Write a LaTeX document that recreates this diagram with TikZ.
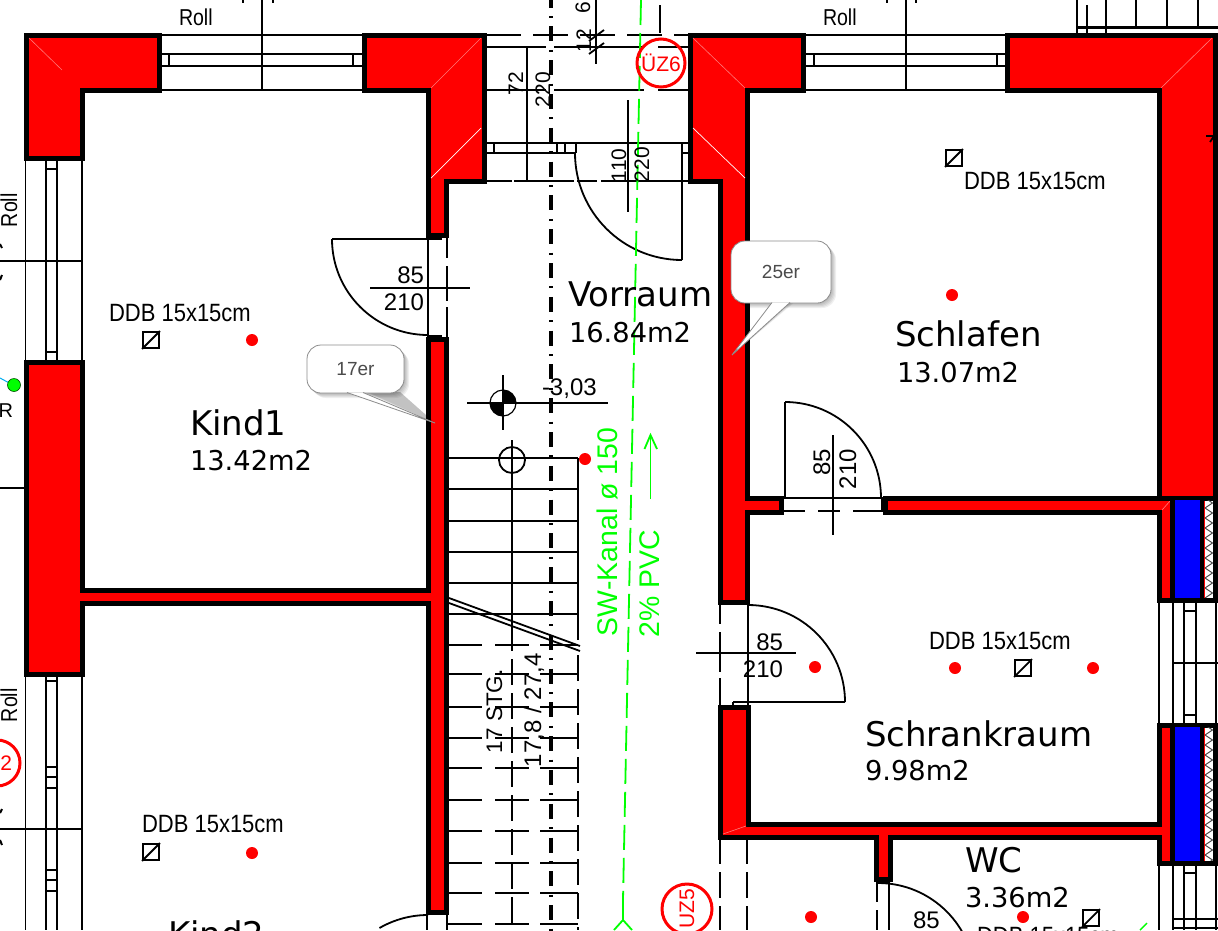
\documentclass[tikz,border=0pt]{standalone}
\usepackage{fontspec}
\setmainfont{Liberation Sans}
\newfontfamily\dvfont{DejaVu Sans}
\definecolor{wallred}{RGB}{255,0,0}
\definecolor{wallblue}{RGB}{0,0,255}
\definecolor{pipegreen}{RGB}{0,255,0}
\definecolor{pale}{RGB}{255,120,120}
\definecolor{calltext}{RGB}{75,75,75}
\definecolor{calledge}{RGB}{140,140,140}
\tikzset{
  x=1pt,y=-1pt,
  ln/.style={line width=1.8pt,black},
  thinln/.style={line width=1.2pt,black},
  wall/.style={fill=wallred,draw=black,line width=5pt,miter limit=10},
  bluefill/.style={fill=wallblue,draw=black,line width=4.5pt},
  palemark/.style={pale,line width=0.6pt},
  whitemark/.style={white,line width=0.7pt},
  dashA/.style={ln,dash pattern=on 35pt off 12pt},
  dashB/.style={ln,dash pattern=on 60pt off 8pt on 90pt off 14pt},
  dashC/.style={ln,dash pattern=on 26pt off 8pt},
  stairdash/.style={ln,dash pattern=on 35pt off 13pt on 34pt off 11pt on 40pt off 0pt},
  axisln/.style={line width=3.8pt,black,dash pattern=on 15pt off 8.4pt on 2pt off 8.4pt},
  pipe/.style={line width=1.8pt,pipegreen,dash pattern=on 25pt off 8pt},
  txt/.style={inner sep=0pt,outer sep=0pt,anchor=base west},
  txte/.style={inner sep=0pt,outer sep=0pt,anchor=base east},
  dim/.style={font=\fontsize{24}{24}\selectfont},
  dimb/.style={font=\fontsize{21}{21}\selectfont},
  roll/.style={font=\fontsize{23}{23}\selectfont},
  ddb/.style={font=\fontsize{25}{25}\selectfont},
  roomname/.style={font=\dvfont\fontsize{34}{34}\selectfont},
  roomarea/.style={font=\dvfont\fontsize{27.3}{28}\selectfont},
  greentxt/.style={pipegreen,font=\fontsize{28.4}{28}\selectfont},
  uzring/.style={circle,draw=wallred,line width=3pt,minimum size=48pt,inner sep=0pt,text=wallred,font=\fontsize{21}{21}\selectfont},
  reddot/.style={circle,fill=wallred,minimum size=12pt,inner sep=0pt},
  ddbsym/.style={rectangle,draw=black,line width=1.8pt,minimum size=16pt,inner sep=0pt},
  callbox/.style={rectangle,rounded corners=14pt,fill=white,draw=calledge,line width=0.8pt,text=calltext,font=\fontsize{19}{19}\selectfont},
  callshade/.style={rounded corners=14pt,fill=black,opacity=0.06},
}
\newcommand{\ddbtext}{\scalebox{0.88}[1]{DDB 15x15cm}}
\newcommand{\rolltext}{\scalebox{0.85}[1]{Roll}}
\newcommand{\ddbmark}[2]{%
  \node[ddbsym] (#1) at #2 {};
  \draw[ln] (#1.south west) -- (#1.north east);}
\begin{document}
\begin{tikzpicture}
\useasboundingbox (0,0) rectangle (1218,930);
\clip (0,0) rectangle (1218,930);
\fill[white] (0,0) rectangle (1218,930);

% ---------- windows ----------
\foreach \yy in {35,54,66,90} {
  \draw[ln] (159,\yy) -- (364,\yy);
  \draw[ln] (803,\yy) -- (1007,\yy);
}
\draw[ln] (262,0) -- (262,91);
\draw[ln] (906,0) -- (906,91);
\draw[ln] (169,54) -- (169,66);
\draw[ln] (353,54) -- (353,66);
\draw[ln] (814,54) -- (814,66);
\draw[ln] (997,54) -- (997,66);
\foreach \xx in {243,273,887,916} { \draw[ln] (\xx,0) -- (\xx,3); }

\foreach \xx in {25.5,46,57,82} {
  \draw[ln] (\xx,158) -- (\xx,362);
  \draw[ln] (\xx,673) -- (\xx,930);
}
\draw[ln] (0,261) -- (83,261);
\draw[ln] (0,829) -- (83,829);
\draw[thinln] (0,488) -- (25,488);
\foreach \yy in {169,352,681,767,777,788,870,880,891} { \draw[ln] (46,\yy) -- (57,\yy); }
\draw[line width=2pt] (0,244) -- (2,248);
\draw[line width=2pt] (0,280) -- (2,275);
\draw[line width=2pt] (0,813) -- (2,809);
\draw[line width=2pt] (0,840) -- (2,845);

\foreach \xx in {1159,1173,1184,1196,1216} {
  \draw[ln] (\xx,600) -- (\xx,725);
  \draw[ln] (\xx,863) -- (\xx,930);
}
\draw[ln] (1173,663) -- (1218,663);
\foreach \yy in {611,715,873} { \draw[ln] (1184,\yy) -- (1196,\yy); }
\draw[ln] (1173,919) -- (1218,919);
\draw[ln] (1173,928) -- (1218,928);

% top right stair remnants
\foreach \xx in {1077,1106,1136,1167,1198} { \draw[ln] (\xx,0) -- (\xx,28); }
\draw[ln] (1087,5) -- (1087,33);
\draw[line width=2.6pt] (1076,27.5) -- (1218,27.5);
\draw[ln] (1077,28) -- (1077,33);
\draw[ln] (1106,28) -- (1106,33);

% ---------- corridor top ----------
\draw[dashA] (486,35) -- (690,35);
\draw[dashB] (486,47) -- (690,47);
\draw[dashB] (486,90) -- (690,90);
\draw[ln] (484,143) -- (690,143);
\draw[ln] (484,153) -- (576,153);
\draw[ln] (682,153) -- (690,153);
\draw[ln,dash pattern=on 28pt off 2pt on 60pt off 3pt on 20pt off 4pt on 90pt off 0pt] (484,181) -- (720,181);
\foreach \xx in {494,557,565,576} { \draw[ln] (\xx,143) -- (\xx,153); }
\draw[ln] (527,47) -- (527,181);
\draw[ln] (660,5) -- (660,33);
\draw[ln] (596,0) -- (596,64);
\draw[ln] (589,41) -- (604,30);
\draw[ln] (589,54) -- (604,43);
\draw[ln] (628,100) -- (628,212);
\draw[ln] (682,143) -- (682,260);
\draw[ln] (575,153) arc[start angle=180,end angle=270,radius=107pt];

% ---------- doors ----------
\draw[ln] (332,239) -- (442,239);
\draw[ln] (332,239) arc[start angle=180,end angle=270,radius=96pt];
\draw[ln] (428,235) -- (428,339);
\draw[ln] (428,336) -- (442,336);
\draw[ln,dash pattern=on 22pt off 8pt on 35pt off 6pt on 40pt off 0pt] (447,236) -- (447,339);
\draw[ln] (370,288) -- (470,288);

\draw[ln] (785,402) -- (785,498);
\draw[ln] (785,402) arc[start angle=90,end angle=0,radius=96pt];
\draw[ln] (783,498) -- (883,498);
\draw[ln,dash pattern=on 22pt off 13pt on 22pt off 13pt on 30pt off 0pt] (783,511) -- (883,511);
\draw[ln] (783,498) -- (783,512);
\draw[ln] (882,498) -- (882,512);
\draw[ln] (833,435) -- (833,535);

\draw[line width=2.5pt] (733,604) -- (748,604);
\draw[ln] (748,605) arc[start angle=90,end angle=0,radius=97pt];
\draw[ln] (733,702) -- (845,702);
\draw[ln] (733,702) -- (733,707);
\draw[ln] (748,602) -- (748,707);
\draw[ln,dash pattern=on 22pt off 8pt on 40pt off 6pt on 30pt off 0pt] (720,602) -- (720,707);
\draw[ln] (696,653) -- (796,653);

\draw[ln] (878,883) arc[start angle=90,end angle=0,radius=97pt];
\draw[ln] (876,882) -- (889,882);
\draw[ln,dash pattern=on 22pt off 8pt] (877,880) -- (877,930);
\draw[ln] (889,880) -- (889,930);
\draw[ln] (428,915) arc[start angle=90,end angle=120,radius=97pt];
\draw[ln] (427,911) -- (427,930);
\draw[ln] (447,911) -- (447,930);
\draw[dashC] (720,838) -- (720,930);
\draw[dashC] (747,838) -- (747,930);

% ---------- stairs ----------
\foreach \yy in {458,489,521,552,583,614} { \draw[ln] (447,\yy) -- (578,\yy); }
\foreach \yy in {645,674,707,738,768,800,831,863,893,924} { \draw[stairdash] (447,\yy) -- (578,\yy); }
\draw[ln] (512,440) -- (512,625);
\draw[dashC] (512,625) -- (512,930);
\draw[ln] (578,458) -- (578,640);
\draw[dashC] (578,655) -- (578,930);
\draw[ln] (449,598) -- (580,646);
\draw[ln] (449,603) -- (580,651);
\node[circle,draw=black,line width=1.8pt,minimum size=26pt,inner sep=0pt] (stairstart) at (512,460) {};

% level mark
\draw[thinln] (467,403) -- (608,403);
\draw[thinln] (503,375) -- (503,430);
\node[circle,draw=black,line width=1.2pt,minimum size=26pt,inner sep=0pt] (level) at (503,403) {};
\fill[black] (503,403) -- (516,403) arc[start angle=0,end angle=90,radius=13pt] -- cycle;
\fill[black] (503,403) -- (490,403) arc[start angle=180,end angle=270,radius=13pt] -- cycle;

% axis
\draw[axisln] (551,-7.4) -- (551,935);

% green pipe
\draw[pipe] (641,0) -- (623,900);
\draw[line width=1.8pt,pipegreen] (623,900) -- (623,920) -- (614,930);
\draw[line width=1.8pt,pipegreen] (623,920) -- (632,930);
\draw[line width=1.8pt,pipegreen] (650.5,499) -- (650.5,435);
\draw[line width=1.8pt,pipegreen] (644.5,449) -- (650.5,435) -- (657,449);
\draw[line width=1.4pt,pipegreen] (1140,930) -- (1147,923);

% ---------- walls ----------
\draw[wall] (26,35) -- (159,35) -- (159,90) -- (82,90) -- (82,158) -- (26,158) -- cycle;
\draw[wall] (364,35) -- (484,35) -- (484,181) -- (446,181) -- (446,235) -- (428,235) -- (428,90) -- (364,90) -- cycle;
\draw[wall] (26,362) -- (82,362) -- (82,590) -- (428,590) -- (428,339) -- (446,339) -- (446,912) -- (428,912) -- (428,603) -- (82,603) -- (82,674) -- (26,674) -- cycle;
\draw[wall] (690,35) -- (803,35) -- (803,90) -- (747,90) -- (747,498) -- (781,498) -- (781,512) -- (747,512) -- (747,602) -- (720,602) -- (720,181) -- (690,181) -- cycle;
\draw[wall] (885,498) -- (1159,498) -- (1159,90) -- (1007,90) -- (1007,35) -- (1215.5,35) -- (1215.5,600) -- (1159,600) -- (1159,512) -- (885,512) -- cycle;
\draw[wall] (720,707) -- (748,707) -- (748,824) -- (1159,824) -- (1159,725) -- (1215.5,725) -- (1215.5,863) -- (1159,863) -- (1159,837) -- (890,837) -- (890,879) -- (876,879) -- (876,837) -- (720,837) -- cycle;

% wall mitre marks
\draw[palemark] (29,38) -- (62,70);
\draw[palemark] (481,38) -- (431,88);
\draw[whitemark] (481,128) -- (431,178);
\draw[palemark] (693,38) -- (745,88);
\draw[whitemark] (693,128) -- (745,178);
\draw[palemark] (1212,38) -- (1161,88);
\draw[palemark] (1162,510) -- (1170,501);
\draw[palemark] (723,834) -- (746,826);

% composite outer-wall layers
\foreach \ya/\yb/\nn in {498/600/10,725/863/14} {
  \fill[black] (1159,\ya-2.5) rectangle (1218,\ya+2.5);
  \draw[bluefill] (1172.5,\ya) rectangle (1202,\yb);
  \fill[white] (1204.5,\ya+2.5) rectangle (1213,\yb-2.5);
  \begin{scope}
    \clip (1204.5,\ya+2.5) rectangle (1213,\yb-2.5);
    \draw[line width=0.9pt,black!75] (1205,\ya)
      \foreach \k in {1,...,\nn} { -- ++(7.5,5) -- ++(-7.5,5) };
  \end{scope}
}
% small arrow mark on the right wall
\draw[ln] (1206,136) -- (1214,136) -- (1210,142);

% ---------- symbols ----------
\foreach \nn/\pp in {dotA/{(252,340)},dotB/{(952,295)},dotC/{(815,667)},dotD/{(955,668)},dotE/{(1093,668)},dotF/{(252,853)},dotG/{(811,917)},dotH/{(1023,917)},dotI/{(585,459)}} {
  \node[reddot] (\nn) at \pp {};
}
\ddbmark{symA}{(151,340)}
\ddbmark{symB}{(954,158)}
\ddbmark{symC}{(1023,668)}
\ddbmark{symD}{(151,852)}
\ddbmark{symE}{(1091,918)}

\draw[line width=1pt,cyan] (0,378) -- (13,385);
\node[circle,fill=pipegreen,draw=black!70!green,line width=0.6pt,minimum size=13pt,inner sep=0pt] (gdot) at (14,385) {};

\node[uzring] (uz6) at (661,63) {ÜZ6};
\node[uzring,rotate=90,minimum size=50pt] (uz5) at (687,909) {UZ5};
\node[circle,draw=wallred,line width=3pt,minimum size=46pt,inner sep=0pt] (uz2) at (-3,763) {};
\node[txte,text=wallred,font=\fontsize{21}{21}\selectfont] (uz2t) at (12,770) {2};

% ---------- texts ----------
\node[txt,roll] (rollA) at (179,25) {\rolltext};
\node[txt,roll] (rollB) at (823,25) {\rolltext};
\node[txt,roll,rotate=90] (rollC) at (17,227) {\rolltext};
\node[txt,roll,rotate=90] (rollD) at (17,722) {\rolltext};
\node[txte,font=\fontsize{20}{20}\selectfont] (rpart) at (13,417) {R};

\node[txt,ddb] (ddbA) at (109,321) {\ddbtext};
\node[txt,ddb] (ddbB) at (964,189) {\ddbtext};
\node[txt,ddb] (ddbC) at (929,649) {\ddbtext};
\node[txt,ddb] (ddbD) at (142,832) {\ddbtext};
\node[txt,ddb] (ddbE) at (977,944) {\ddbtext};

\node[txte,dim] (k85) at (424,283) {85};
\node[txte,dim] (k210) at (424,310) {210};
\node[txte,dim] (s85) at (783,650) {85};
\node[txte,dim] (s210) at (783,677) {210};
\node[txte,dim,rotate=90] (h85) at (830,449) {85};
\node[txte,dim,rotate=90] (h210) at (856,449) {210};
\node[txt,dim] (w85) at (913,928) {85};

\node[txt,dimb,rotate=90] (d72) at (523,95) {72};
\node[txt,dimb,rotate=90] (d220a) at (550,107) {220};
\node[txt,dimb,rotate=90] (d110) at (626,182) {110};
\node[txt,dimb,rotate=90] (d220b) at (649,182) {220};
\node[txt,dimb,rotate=90] (d12) at (591,52) {12};
\node[txt,dimb,rotate=90] (d6) at (590,13) {6};

\node[txt,dim] (lvl) at (542,395) {-3,03};
\node[txt,font=\fontsize{22.5}{22}\selectfont,rotate=90] (stg) at (502,753) {17 STG.};
\node[txt,font=\fontsize{24}{24}\selectfont,rotate=90] (rise) at (541,767) {17,8 / 27,4};

\node[txt,greentxt,rotate=90] (sw) at (617,636) {SW-Kanal ø 150};
\node[txt,greentxt,rotate=90] (pvc) at (659,637) {2\% PVC};

\node[txt,roomname] (vorr) at (568,306) {Vorraum};
\node[txt,roomarea] (vorra) at (569,342) {16.84m2};
\node[txt,roomname] (schl) at (895,346) {Schlafen};
\node[txt,roomarea] (schla) at (897,382) {13.07m2};
\node[txt,roomname] (kind1) at (190,435) {Kind1};
\node[txt,roomarea] (kind1a) at (190,470) {13.42m2};
\node[txt,roomname] (schr) at (865,746) {Schrankraum};
\node[txt,roomarea] (schra) at (865,780) {9.98m2};
\node[txt,roomname] (wc) at (965,872) {WC};
\node[txt,roomarea] (wca) at (965,907) {3.36m2};
\node[txt,roomname] (kind2) at (168,946) {Kind2};

% ---------- callouts ----------
\coordinate (tipA) at (435,423);
\coordinate (tipB) at (732,355);
\coordinate (rootA1) at (347,392.5);
\coordinate (rootA2) at (363,392.5);
\coordinate (rootB1) at (772,302.5);
\coordinate (rootB2) at (790,302.5);
\foreach \d in {1,2,3,4,5} {
  \fill[callshade] (307+\d,345+\d) rectangle (404+\d,393+\d);
  \fill[callshade] (731+\d,241+\d) rectangle (831+\d,303+\d);
  \fill[black,opacity=0.05] (363+\d,392) -- (tipA) -- (400,392) -- cycle;
  \fill[black,opacity=0.05] (790+\d,302) -- (tipB) -- (772+\d,302) -- cycle;
}
\node[callbox,minimum width=97pt,minimum height=48pt] (callA) at (355.5,369) {17er};
\node[callbox,minimum width=100pt,minimum height=62pt] (callB) at (781,272) {25er};
\fill[white] (rootA1) -- (tipA) -- (rootA2) -- cycle;
\draw[calledge,line width=0.8pt] (rootA1) -- (tipA) -- (rootA2);
\fill[white] (rootB1) -- (tipB) -- (rootB2) -- cycle;
\draw[calledge,line width=0.8pt] (rootB1) -- (tipB) -- (rootB2);
\end{tikzpicture}
\end{document}
